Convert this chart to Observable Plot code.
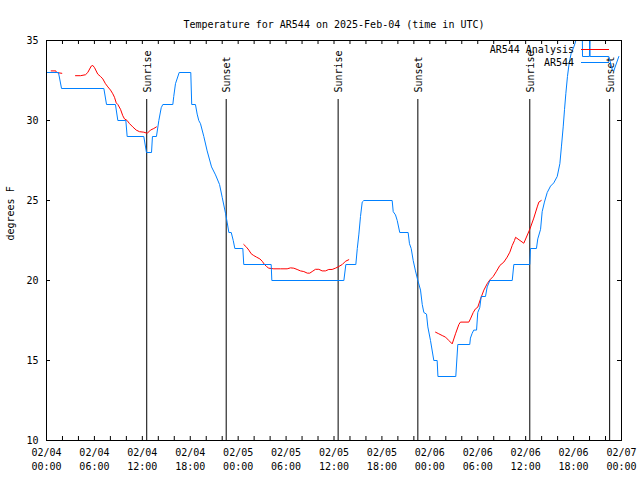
<!DOCTYPE html>
<html><head><meta charset="utf-8">
<script src="https://cdn.jsdelivr.net/npm/d3@7"></script>
<script src="https://cdn.jsdelivr.net/npm/@observablehq/plot@0.6"></script>
<style>body{margin:0;background:#fff} svg{display:block}</style>
</head><body><div id="chart"></div>
<script>
const title = "Temperature for AR544 on 2025-Feb-04 (time in UTC)";
const yLabel = "degrees F";
const seriesNames = ["AR544 Analysis", "AR544"];
const seriesColors = ["#ff0000", "#0080ff"];
const xStart = "02-04 00:00";
const xEnd = "02-07 00:00";
const yTicks = [10, 15, 20, 25, 30, 35];

const obsTimes = ["02-04 00:00","02-04 01:30","02-04 01:53","02-04 07:11","02-04 07:31","02-04 08:38","02-04 08:56","02-04 09:56","02-04 10:06","02-04 12:11","02-04 12:31","02-04 13:09","02-04 13:16","02-04 13:46","02-04 14:04","02-04 14:22","02-04 14:34","02-04 15:49","02-04 15:56","02-04 16:09","02-04 16:37","02-04 18:04","02-04 18:11","02-04 18:39","02-04 18:52","02-04 19:04","02-04 19:17","02-04 19:42","02-04 20:07","02-04 20:40","02-04 21:10","02-04 21:40","02-04 22:00","02-04 22:25","02-04 22:38","02-04 22:50","02-04 23:08","02-04 23:23","02-04 23:35","02-05 00:35","02-05 00:42","02-05 04:08","02-05 04:13","02-05 13:14","02-05 13:29","02-05 14:44","02-05 14:55","02-05 15:07","02-05 15:19","02-05 15:32","02-05 15:44","02-05 19:17","02-05 19:25","02-05 19:42","02-05 19:55","02-05 20:14","02-05 21:17","02-05 21:27","02-05 21:40","02-05 21:55","02-05 22:12","02-05 22:30","02-05 22:50","02-05 23:03","02-05 23:15","02-05 23:35","02-05 23:45","02-06 00:05","02-06 00:30","02-06 00:55","02-06 01:01","02-06 03:15","02-06 03:30","02-06 05:00","02-06 05:05","02-06 05:18","02-06 05:30","02-06 05:51","02-06 06:00","02-06 06:15","02-06 06:26","02-06 06:58","02-06 07:11","02-06 07:31","02-06 10:19","02-06 10:31","02-06 12:31","02-06 12:36","02-06 13:21","02-06 13:31","02-06 13:52","02-06 14:04","02-06 14:21","02-06 14:42","02-06 15:07","02-06 15:31","02-06 15:57","02-06 16:17","02-06 16:29","02-06 16:42","02-06 16:52","02-06 17:02","02-06 17:14","02-06 17:27","02-06 17:42","02-06 18:02","02-06 18:14","02-06 18:29","02-06 18:45","02-06 19:05","02-06 19:07","02-06 19:59","02-06 20:02","02-06 20:04","02-06 22:25","02-06 22:50","02-06 23:02","02-06 23:40"];
const obsTemps = [33,33,32,32,31,31,30,30,29,29,28,28,29,29,30,30.8,31,31,31.5,32.3,33,33,31,31,30.4,30,29.8,29,28.1,27.1,26.6,26,25.2,24.2,23.6,23,23,22.5,22,22,21,21,20,20,21,21,22,22.9,24,24.9,25,25,24.3,24.1,23.75,23,23,22.3,22,21.25,20.6,20,19.4,18.5,18,17.9,17.1,16.25,15,15,14,14,16,16,16.4,16.7,16.9,16.9,18,18.3,19,19,19.6,20,20,21,21,22,22,22.6,23.2,24.3,24.9,25.5,25.9,26.1,26.5,27.3,28.4,29.6,30.7,31.7,32.75,33.6,34.2,34.6,34.9,35.5,36,36,34,34,36,34,34,33.2,33.1,34];

// null temperature = gap in the analysis line
const anaTimes = ["02-04 00:35","02-04 01:10","02-04 01:15","02-04 01:55","02-04 02:30","02-04 03:38","02-04 04:16","02-04 04:53","02-04 05:10","02-04 05:36","02-04 05:48","02-04 06:01","02-04 06:25","02-04 06:46","02-04 07:03","02-04 07:23","02-04 07:41","02-04 08:01","02-04 08:18","02-04 08:31","02-04 08:44","02-04 08:56","02-04 09:16","02-04 09:33","02-04 09:46","02-04 10:06","02-04 10:24","02-04 10:48","02-04 11:14","02-04 11:39","02-04 12:11","02-04 12:37","02-04 13:01","02-04 13:26","02-04 13:46","02-04 18:00","02-05 00:42","02-05 01:03","02-05 01:20","02-05 01:38","02-05 01:57","02-05 02:18","02-05 02:43","02-05 03:01","02-05 03:18","02-05 03:33","02-05 03:50","02-05 04:28","02-05 05:18","02-05 06:08","02-05 06:33","02-05 06:58","02-05 07:23","02-05 07:48","02-05 08:13","02-05 08:39","02-05 08:58","02-05 09:16","02-05 09:41","02-05 10:06","02-05 10:31","02-05 10:56","02-05 11:21","02-05 11:46","02-05 12:11","02-05 12:36","02-05 13:02","02-05 13:26","02-05 13:51","02-05 18:00","02-06 00:43","02-06 01:07","02-06 01:33","02-06 01:58","02-06 02:23","02-06 02:48","02-06 03:13","02-06 03:38","02-06 03:50","02-06 04:53","02-06 05:05","02-06 05:26","02-06 05:43","02-06 06:00","02-06 06:21","02-06 06:46","02-06 07:11","02-06 07:31","02-06 07:56","02-06 08:21","02-06 08:46","02-06 09:16","02-06 09:41","02-06 10:01","02-06 10:19","02-06 10:36","02-06 10:44","02-06 11:46","02-06 12:31","02-06 13:01","02-06 13:27","02-06 13:39","02-06 13:57"];
const anaTemps = [33.1,33.1,33.0,32.95,null,32.8,32.8,32.86,33.0,33.4,33.44,33.3,32.9,32.75,32.6,32.3,32.1,31.9,31.67,31.45,31.1,31.0,30.7,30.3,30.1,30.0,29.8,29.6,29.4,29.3,29.27,29.2,29.4,29.5,29.6,null,22.25,22.08,21.9,21.67,21.56,21.46,21.35,21.2,21.0,20.875,20.77,20.73,20.73,20.73,20.79,20.77,20.69,20.6,20.56,20.46,20.46,20.56,20.7,20.7,20.6,20.6,20.69,20.69,20.77,20.875,21.0,21.2,21.3,null,16.77,16.67,16.56,16.46,16.25,16.04,16.67,17.25,17.4,17.4,17.6,18.0,18.23,18.33,18.85,19.4,19.8,20.04,20.25,20.58,20.94,21.15,21.46,21.77,22.19,22.5,22.7,22.33,23.2,23.9,24.6,24.9,25.0];

const sunTimes = ["02-04 12:33","02-04 22:30","02-05 12:31","02-05 22:30","02-06 12:31","02-06 22:31"];
const sunLabels = ["Sunrise","Sunset","Sunrise","Sunset","Sunrise","Sunset"];

const parseT = s => {
  const [md, hm] = s.split(" ");
  const [m, d] = md.split("-").map(Number);
  const [H, M] = hm.split(":").map(Number);
  return new Date(Date.UTC(2025, m - 1, d, H, M));
};
const obs = obsTimes.map((t, i) => ({time: parseT(t), temp: obsTemps[i]}));
const ana = anaTimes.map((t, i) => ({time: parseT(t), temp: anaTemps[i] == null ? NaN : anaTemps[i]}));
const sun = sunTimes.map((t, i) => ({time: parseT(t), label: sunLabels[i]}));
const x0 = parseT(xStart), x1 = parseT(xEnd);
const xMajor = d3.utcHour.every(6).range(x0, new Date(+x1 + 1));
const xMinor = d3.utcHour.every(2).range(x0, new Date(+x1 + 1));
const fmt = d3.utcFormat("%m/%d\n%H:%M");
const font = "'DejaVu Sans Mono', 'Liberation Mono', monospace";

const legend = (index, scales, values, dims) => {
  const g = d3.create("svg:g").attr("font-family", font).attr("font-size", 10).attr("fill", "black");
  const xr = dims.width - dims.marginRight;
  seriesNames.forEach((name, i) => {
    const y = dims.marginTop + 10 + i * 13;
    g.append("text").attr("x", xr - 47).attr("y", y).attr("dy", "0.32em").attr("text-anchor", "end").text(name);
    g.append("line").attr("x1", xr - 40).attr("x2", xr - 12).attr("y1", y - 0.5).attr("y2", y - 0.5)
      .attr("stroke", seriesColors[i]).attr("stroke-width", 1);
  });
  return g.node();
};

const chart = Plot.plot({
  width: 640, height: 480,
  marginTop: 40, marginBottom: 40, marginLeft: 46, marginRight: 19,
  style: {fontFamily: font, fontSize: "10px", background: "white", color: "black"},
  x: {type: "utc", domain: [x0, x1]},
  y: {domain: [10, 35]},
  marks: [
    Plot.ruleX(xMinor, {insetTop: 396, stroke: "black"}),
    Plot.ruleX(xMinor, {insetBottom: 396, stroke: "black"}),
    Plot.ruleY(yTicks, {insetRight: 571, stroke: "black"}),
    Plot.ruleY(yTicks, {insetLeft: 571, stroke: "black"}),
    Plot.axisX({ticks: xMajor, tickFormat: fmt, tickSize: 0, tickPadding: 6, lineHeight: 1.4, label: null}),
    Plot.axisY({ticks: yTicks, tickSize: 0, tickPadding: 8, label: null}),
    Plot.ruleX(sun, {x: "time", insetTop: 59, stroke: "black"}),
    Plot.text(sun, {x: "time", text: "label", frameAnchor: "top", rotate: -90, textAnchor: "start", dy: 52, dx: -3, fill: "black"}),
    Plot.line(ana, {x: "time", y: "temp", stroke: seriesColors[0], strokeWidth: 1, clip: true}),
    Plot.line(obs, {x: "time", y: "temp", stroke: seriesColors[1], strokeWidth: 1, clip: true}),
    Plot.frame({stroke: "black"}),
    Plot.text([title], {frameAnchor: "top", dy: -20, fill: "black"}),
    Plot.text([yLabel], {frameAnchor: "left", dx: -36, rotate: -90, fill: "black"}),
    legend
  ]
});
document.getElementById("chart").append(chart);
</script>
</body></html>
